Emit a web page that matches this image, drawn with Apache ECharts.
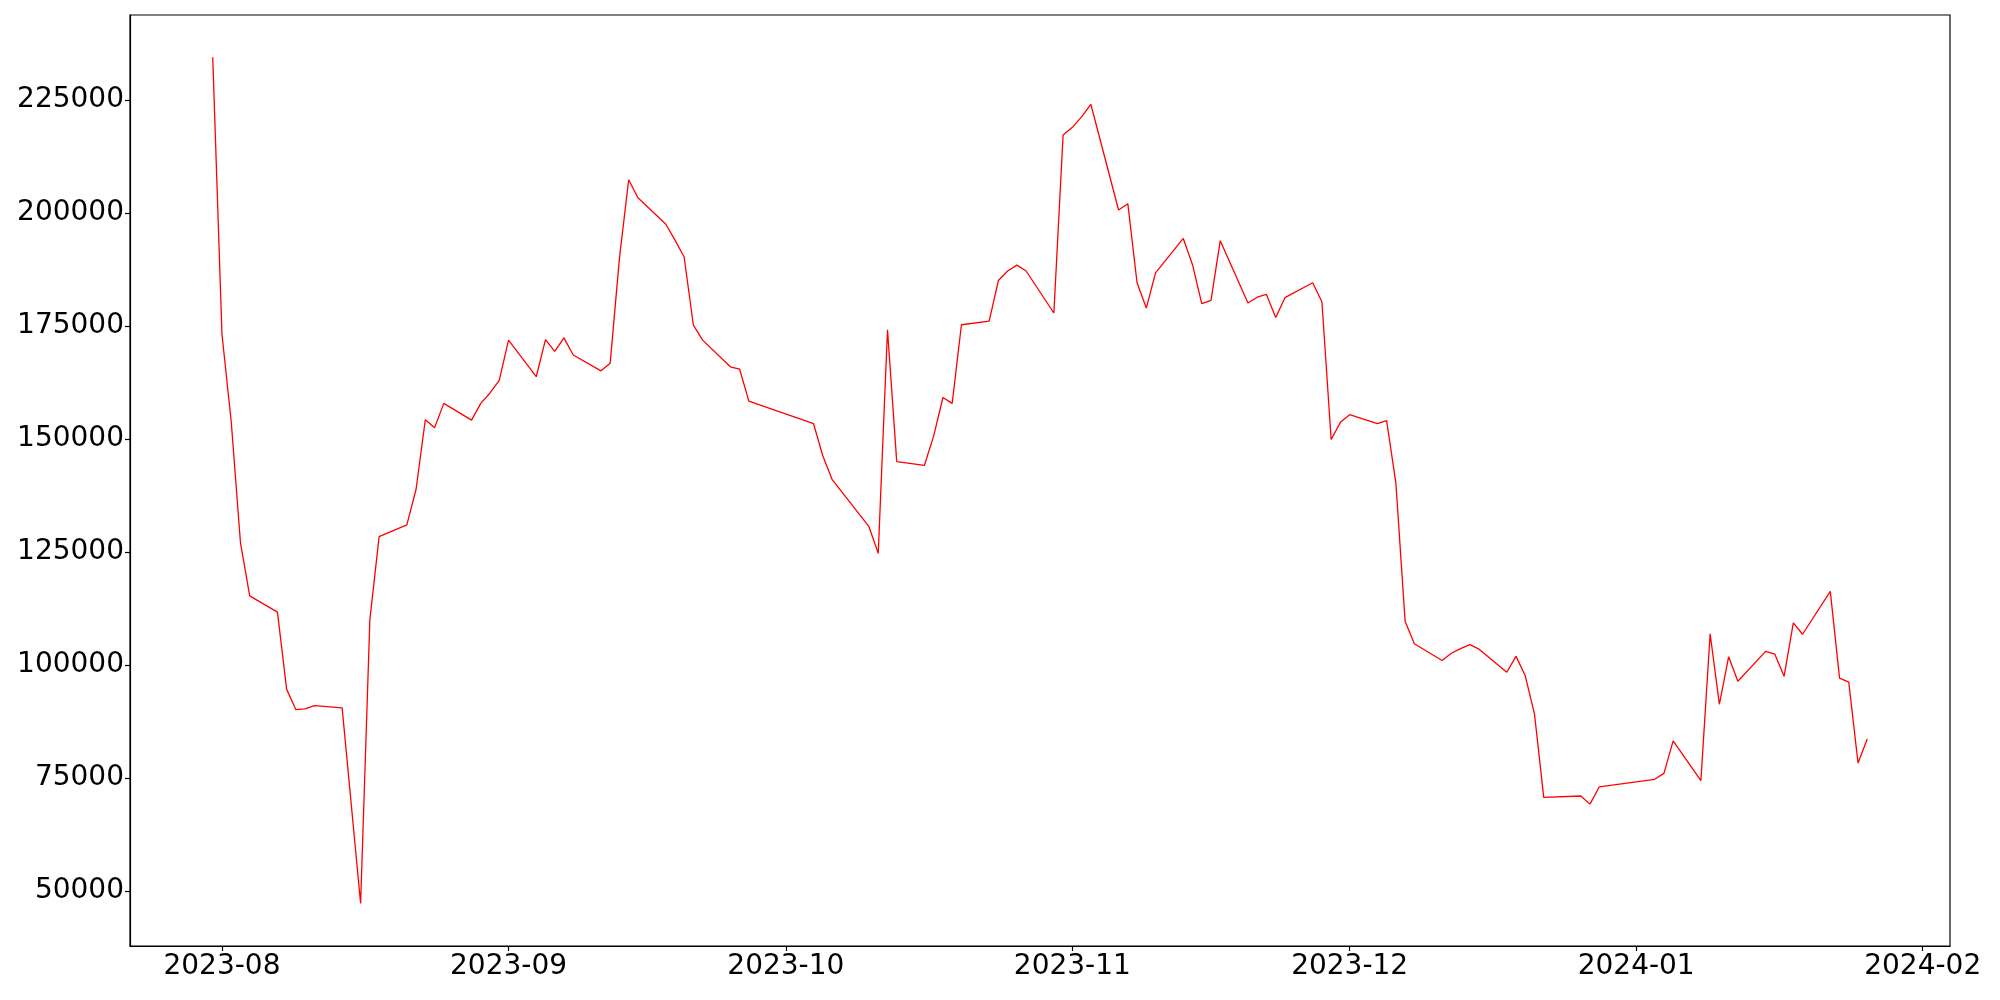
<!DOCTYPE html>
<html>
<head>
<meta charset="utf-8">
<script src="https://cdn.jsdelivr.net/npm/echarts@6/dist/echarts.min.js"></script>
<style>
  html, body { margin: 0; padding: 0; background: #fff; }
  #chart { width: 2000px; height: 1000px; }
</style>
</head>
<body>
<div id="chart"></div>
<script>
const dates = [
  '2023-07-31', '2023-08-01', '2023-08-02', '2023-08-03', '2023-08-04',
  '2023-08-07', '2023-08-08', '2023-08-09', '2023-08-10', '2023-08-11',
  '2023-08-14', '2023-08-16', '2023-08-17', '2023-08-18',
  '2023-08-21', '2023-08-22', '2023-08-23', '2023-08-24', '2023-08-25',
  '2023-08-28', '2023-08-29', '2023-08-30', '2023-08-31', '2023-09-01',
  '2023-09-04', '2023-09-05', '2023-09-06', '2023-09-07', '2023-09-08',
  '2023-09-11', '2023-09-12', '2023-09-13', '2023-09-14', '2023-09-15',
  '2023-09-18', '2023-09-19', '2023-09-20', '2023-09-21', '2023-09-22',
  '2023-09-25', '2023-09-26', '2023-09-27',
  '2023-10-04', '2023-10-05', '2023-10-06',
  '2023-10-10', '2023-10-11', '2023-10-12', '2023-10-13',
  '2023-10-16', '2023-10-17', '2023-10-18', '2023-10-19', '2023-10-20',
  '2023-10-23', '2023-10-24', '2023-10-25', '2023-10-26', '2023-10-27',
  '2023-10-30', '2023-10-31', '2023-11-01', '2023-11-02', '2023-11-03',
  '2023-11-06', '2023-11-07', '2023-11-08', '2023-11-09', '2023-11-10',
  '2023-11-13', '2023-11-14', '2023-11-15', '2023-11-16', '2023-11-17',
  '2023-11-20', '2023-11-21', '2023-11-22', '2023-11-23', '2023-11-24',
  '2023-11-27', '2023-11-28', '2023-11-29', '2023-11-30', '2023-12-01',
  '2023-12-04', '2023-12-05', '2023-12-06', '2023-12-07', '2023-12-08',
  '2023-12-11', '2023-12-12', '2023-12-13', '2023-12-14', '2023-12-15',
  '2023-12-18', '2023-12-19', '2023-12-20', '2023-12-21', '2023-12-22',
  '2023-12-26', '2023-12-27', '2023-12-28',
  '2024-01-03', '2024-01-04', '2024-01-05',
  '2024-01-08', '2024-01-09', '2024-01-10', '2024-01-11', '2024-01-12',
  '2024-01-15', '2024-01-16', '2024-01-17', '2024-01-18', '2024-01-19',
  '2024-01-22', '2024-01-23', '2024-01-24', '2024-01-25', '2024-01-26'
];

const values = [
  234500, 173200, 153900, 127100, 115300,
  111700, 94600, 90100, 90300, 91000,
  90500, 47200, 110000, 128400,
  131000, 138900, 154300, 152500, 157900,
  154200, 157900, 160200, 163000, 171900,
  163800, 172000, 169400, 172400, 168600,
  165100, 166800, 190000, 207400, 203400,
  197600, 194100, 190300, 175200, 171900,
  166000, 165500, 158400,
  153400, 146300, 141100,
  130600, 124700, 174200, 145000,
  144200, 150700, 159200, 157900, 175300,
  176100, 185100, 187200, 188500, 187200,
  177900, 217300, 219000, 221300, 224100,
  200700, 202100, 184600, 179000, 186800,
  194400, 188600, 180000, 180700, 193900,
  180100, 181400, 182000, 176900, 181300,
  184600, 180400, 149900, 153700, 155400,
  153400, 154100, 140300, 109700, 104700,
  101000, 102600, 103600, 104500, 103500,
  98400, 101900, 97600, 89100, 70700,
  71000, 69200, 73000,
  74700, 76000, 83200,
  74400, 106900, 91300, 101800, 96400,
  103000, 102400, 97500, 109300, 106800,
  116300, 97100, 96200, 78300, 83600
];

const monthTicks = ['2023-08', '2023-09', '2023-10', '2023-11', '2023-12', '2024-01', '2024-02'];
const yTicks = [50000, 75000, 100000, 125000, 150000, 175000, 200000, 225000];

// local time so the labels land on month starts
function toTime(s) {
  const p = s.split('-').map(Number);
  return new Date(p[0], p[1] - 1, p[2] || 1).getTime();
}

const HOUR = 3600 * 1000;
const chart = echarts.init(document.getElementById('chart'));
const fontFamily = 'DejaVu Sans';

const option = {
  animation: false,
  backgroundColor: '#fff',
  grid: {
    left: 130,
    right: 50,
    top: 15,
    bottom: 54,
    show: true,
    borderColor: '#000',
    borderWidth: 1.2
  },
  xAxis: {
    type: 'value',
    min: toTime('2023-07-22') + 1.2 * HOUR,
    max: toTime('2024-02-03') + 22.8 * HOUR,
    axisLine: { lineStyle: { color: '#000', width: 1.2 } },
    axisTick: {
      show: true,
      inside: false,
      length: 5,
      lineStyle: { color: '#000', width: 1.2 },
      customValues: monthTicks.map(toTime)
    },
    axisLabel: {
      color: '#000',
      fontFamily: fontFamily,
      fontSize: 28,
      margin: 7,
      customValues: monthTicks.map(toTime),
      formatter: function (val) {
        const d = new Date(val);
        return d.getFullYear() + '-' + String(d.getMonth() + 1).padStart(2, '0');
      }
    },
    splitLine: { show: false }
  },
  yAxis: {
    type: 'value',
    min: 37800,
    max: 243860,
    axisLine: { show: true, lineStyle: { color: '#000', width: 1.2 } },
    axisTick: {
      show: true,
      inside: false,
      length: 5,
      lineStyle: { color: '#000', width: 1.2 },
      customValues: yTicks
    },
    axisLabel: {
      color: '#000',
      fontFamily: fontFamily,
      fontSize: 28,
      margin: 6,
      customValues: yTicks,
      formatter: function (val) {
        return String(val);
      }
    },
    splitLine: { show: false }
  },
  series: [
    {
      type: 'line',
      data: dates.map((d, i) => [toTime(d), values[i]]),
      showSymbol: false,
      symbol: 'none',
      lineStyle: { color: '#ff0000', width: 1.3 }
    }
  ]
};

chart.setOption(option);
</script>
</body>
</html>
